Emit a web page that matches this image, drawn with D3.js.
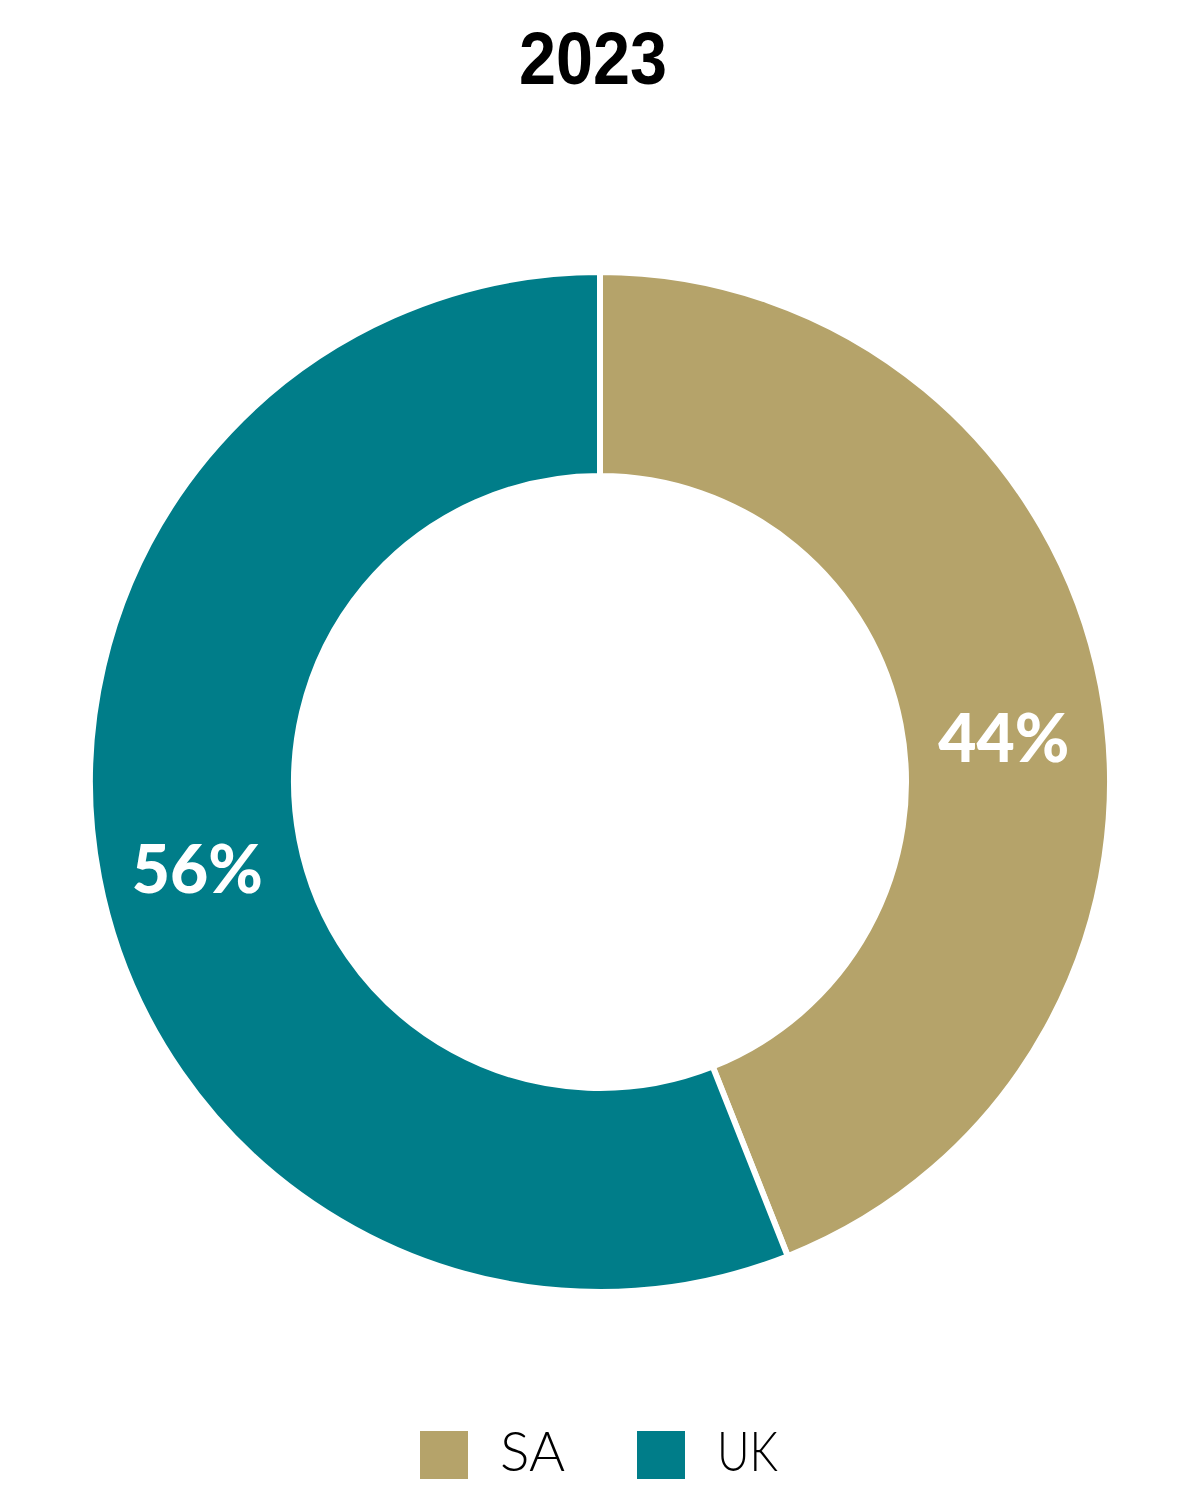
<!DOCTYPE html>
<html><head><meta charset="utf-8">
<script src="https://cdn.jsdelivr.net/npm/d3@7"></script>
<style>body{margin:0;background:#fff}</style>
</head><body>
<svg id="chart" width="1200" height="1500"></svg>
<script>
const title = "2023";
const categories = ["SA", "UK"];
const values = [44, 56];
const colors = ["#b5a36a", "#007d89"];

const svg = d3.select("#chart");
const cx = 600, cy = 782, rOuter = 510, rInner = 306;

svg.append("text").attr("x", 593).attr("y", 84)
  .attr("text-anchor", "middle")
  .attr("font-family", "Liberation Sans, Arial, sans-serif")
  .attr("font-weight", "bold").attr("font-size", 74)
  .attr("textLength", 148).attr("lengthAdjust", "spacingAndGlyphs")
  .text(title);

const data = categories.map((c, i) => ({cat: c, value: values[i], color: colors[i]}));
const pie = d3.pie().value(d => d.value).sort(null);
const arc = d3.arc().innerRadius(rInner).outerRadius(rOuter);
const arcs = pie(data);

const g = svg.append("g").attr("transform", `translate(${cx},${cy})`);
g.selectAll("path").data(arcs).join("path")
  .attr("d", arc).attr("fill", d => d.data.color)
  .attr("stroke", "#fff").attr("stroke-width", 6);

g.selectAll("text.lbl").data(arcs).join("text").attr("class", "lbl")
  .attr("transform", d => { const [x, y] = arc.centroid(d); return `translate(${x + (x > 0 ? 3 : -2)},${y})`; })
  .attr("dy", d => arc.centroid(d)[0] > 0 ? 56 : 35)
  .attr("text-anchor", "middle")
  .attr("font-family", "Lato, sans-serif").attr("font-weight", 900)
  .attr("font-size", 66).attr("fill", "#fff")
  .text(d => d.data.value + "%");

const legendX = d3.scalePoint().domain(categories).range([420, 637]);
const lg = svg.append("g");
const items = lg.selectAll("g").data(data).join("g")
  .attr("transform", d => `translate(${legendX(d.cat)},1431)`);
items.append("rect").attr("width", 48).attr("height", 48).attr("fill", d => d.color);
items.append("text").attr("x", 80).attr("y", 40)
  .attr("font-family", "Lato, sans-serif").attr("font-weight", 300)
  .attr("font-size", 56).attr("fill", "#000")
  .attr("textLength", d => d.cat === "SA" ? 65 : 61).attr("lengthAdjust", "spacingAndGlyphs")
  .text(d => d.cat);
</script>
</body></html>
